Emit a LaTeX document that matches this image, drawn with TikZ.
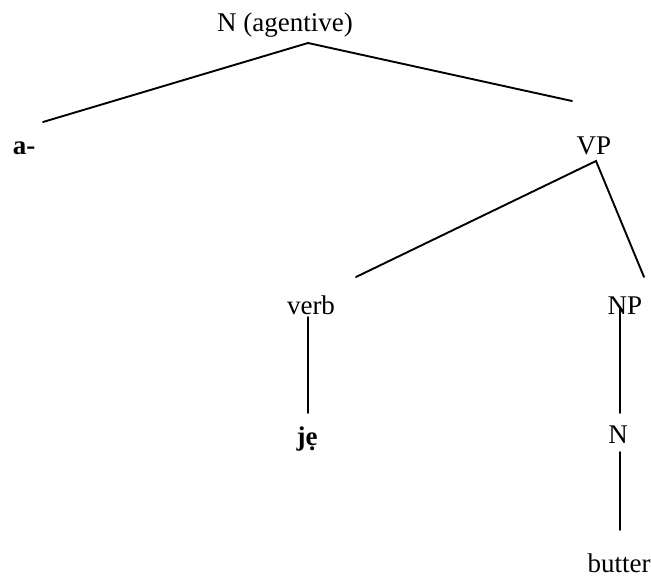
\documentclass[tikz,border=0pt]{standalone}
\usepackage{fontspec}
\setmainfont{Liberation Serif}
\begin{document}
\begin{tikzpicture}[x=1pt,y=-1pt,
  lbl/.style={anchor=base,inner sep=0pt,font=\fontsize{27}{32}\selectfont},
  edge/.style={line width=1.9pt,line cap=round}]
\useasboundingbox (0,0) rectangle (651,577);
% labels
\node[lbl] (root) at (285,32) {N (agentive)};
\node[lbl,font=\fontsize{27}{32}\selectfont\bfseries] (a) at (24,155) {a-};
\node[lbl] (vp) at (594,155) {VP};
\node[lbl] (verb) at (311,315) {verb};
\node[lbl] (np) at (625,315) {NP};
\node[lbl,font=\fontsize{27}{32}\selectfont\bfseries] (je) at (307,445) {jẹ};
\node[lbl] (n) at (618,443) {N};
\node[lbl] (butter) at (619,572) {butter};
% connector ends
\coordinate (rootA) at (308,43);
\coordinate (aT) at (43,122);
\coordinate (vpT) at (572,101);
\coordinate (vpA) at (596,161);
\coordinate (verbT) at (356,277);
\coordinate (npT) at (644,277);
\coordinate (verbB) at (308,317);
\coordinate (jeT) at (308,413);
\coordinate (npB) at (620,307);
\coordinate (nT) at (620,413);
\coordinate (nB) at (620,452);
\coordinate (butterT) at (620,530);
% connectors
\draw[edge] (aT) -- (rootA) -- (vpT);
\draw[edge] (verbT) -- (vpA) -- (npT);
\draw[edge] (verbB) -- (jeT);
\draw[edge] (npB) -- (nT);
\draw[edge] (nB) -- (butterT);
\end{tikzpicture}
\end{document}
